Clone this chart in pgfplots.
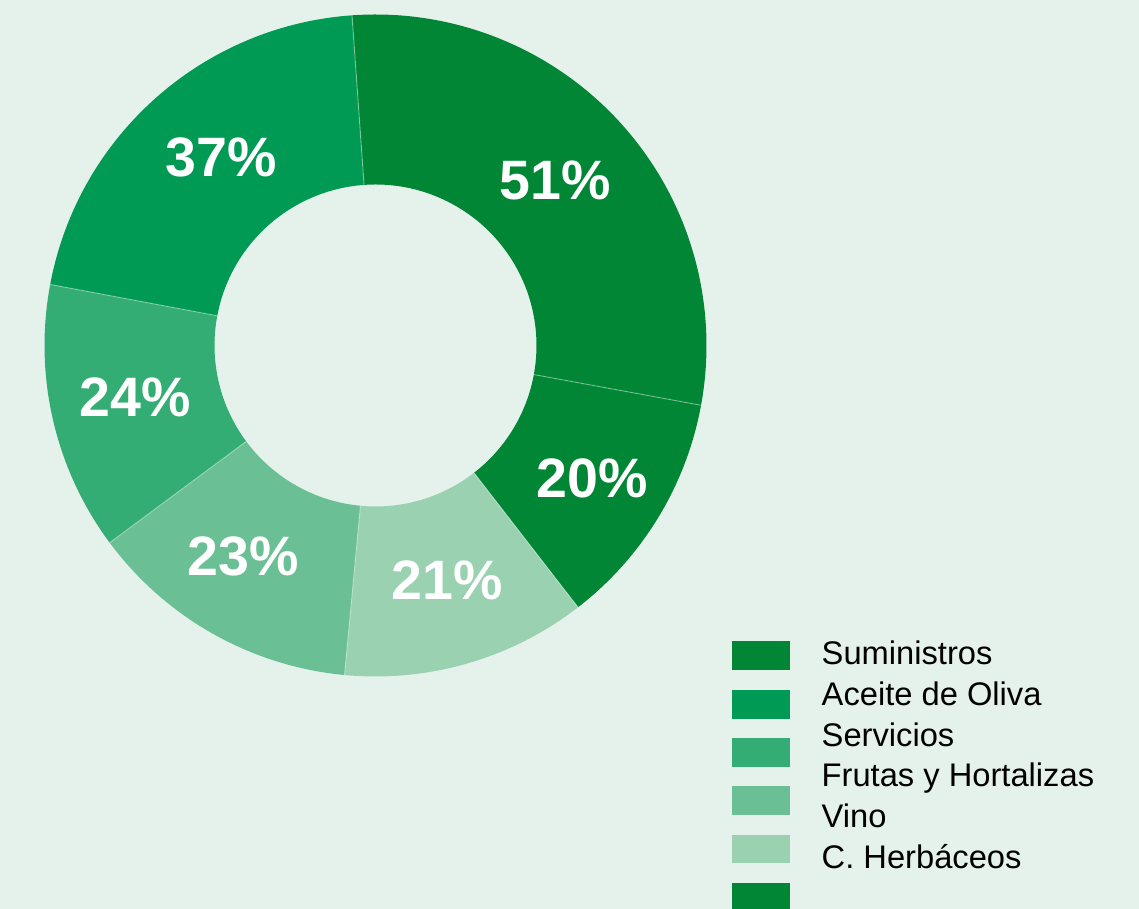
\documentclass[border=0pt]{standalone}
\usepackage{pgfplots}
\pgfplotsset{compat=1.18}
\usepackage{pgfplotstable}
\usepackage{fontspec}
\setmainfont{Liberation Sans}
\definecolor{bg}{HTML}{E5F2EB}
\definecolor{g1}{HTML}{008634}
\definecolor{g2}{HTML}{009A55}
\definecolor{g3}{HTML}{33AD74}
\definecolor{g4}{HTML}{6BBF94}
\definecolor{g5}{HTML}{99D1B1}

% donut slices, clockwise from the top: share of the ring (%), printed label, colour, label position
\pgfplotstableread{
share label color lx ly
29.02 51 g1 5.55 7.29
11.63 20 g1 5.92 4.31
11.97 21 g5 4.47 3.29
13.35 23 g4 2.43 3.53
13.11 24 g3 1.35 5.12
20.92 37 g2 2.21 7.52
}\slices

\tikzset{pct/.style={text=white, inner sep=0pt, anchor=center,
  font=\bfseries\fontsize{15.8}{18}\selectfont},
  leg/.style={text=black, inner sep=0pt, anchor=base west,
  font=\fontsize{9.3}{11}\selectfont}}

\begin{document}
\begin{tikzpicture}
\begin{axis}[
  x=1cm, y=1cm, xmin=0, xmax=11.39, ymin=0, ymax=9.09,
  hide axis, scale only axis, clip=false,
]
\fill[bg] (axis cs:0,0) rectangle (axis cs:11.39,9.09);

\def\cx{3.755}\def\cy{5.635}\def\ri{1.61}\def\ro{3.31}
\pgfplotstablegetrowsof{\slices}
\pgfmathtruncatemacro\N{\pgfplotsretval-1}
\def\total{0}
\pgfplotsforeachungrouped \i in {0,...,\N}{%
  \pgfplotstablegetelem{\i}{share}\of\slices
  \pgfmathsetmacro\total{\total+\pgfplotsretval}%
}
\def\ang{94.07}
\pgfplotsforeachungrouped \i in {0,...,\N}{%
  \pgfplotstablegetelem{\i}{share}\of\slices \let\val\pgfplotsretval
  \pgfplotstablegetelem{\i}{color}\of\slices \let\col\pgfplotsretval
  \pgfmathsetmacro\angb{\ang-\val/\total*360}%
  \pgfmathsetmacro\xia{\cx+\ri*cos(\ang)}%
  \pgfmathsetmacro\yia{\cy+\ri*sin(\ang)}%
  \pgfmathsetmacro\xoa{\cx+\ro*cos(\ang)}%
  \pgfmathsetmacro\yoa{\cy+\ro*sin(\ang)}%
  \pgfmathsetmacro\xib{\cx+\ri*cos(\angb)}%
  \pgfmathsetmacro\yib{\cy+\ri*sin(\angb)}%
  \edef\cmd{\noexpand\fill[\col] (axis cs:\xia,\yia) -- (axis cs:\xoa,\yoa)
     arc[start angle=\ang, end angle=\angb, radius=\ro]
     -- (axis cs:\xib,\yib)
     arc[start angle=\angb, end angle=\ang, radius=\ri] -- cycle;}%
  \cmd
  \let\ang\angb
}
% thin separators between slices
\def\ang{94.07}
\pgfplotsforeachungrouped \i in {0,...,\N}{%
  \pgfplotstablegetelem{\i}{share}\of\slices \let\val\pgfplotsretval
  \pgfmathsetmacro\xia{\cx+\ri*cos(\ang)}%
  \pgfmathsetmacro\yia{\cy+\ri*sin(\ang)}%
  \pgfmathsetmacro\xoa{\cx+\ro*cos(\ang)}%
  \pgfmathsetmacro\yoa{\cy+\ro*sin(\ang)}%
  \edef\cmd{\noexpand\draw[white, draw opacity=0.35, line width=0.3pt]
     (axis cs:\xia,\yia) -- (axis cs:\xoa,\yoa);}%
  \cmd
  \pgfmathsetmacro\ang{\ang-\val/\total*360}%
}
% percentage labels
\pgfplotsforeachungrouped \i in {0,...,\N}{%
  \pgfplotstablegetelem{\i}{label}\of\slices \let\lab\pgfplotsretval
  \pgfplotstablegetelem{\i}{lx}\of\slices \let\xl\pgfplotsretval
  \pgfplotstablegetelem{\i}{ly}\of\slices \let\yl\pgfplotsretval
  \edef\cmd{\noexpand\node[pct] at (axis cs:\xl,\yl) {\lab\noexpand\%};}%
  \cmd
}

% legend
\fill[g1] (axis cs:7.32,2.39) rectangle (axis cs:7.90,2.68);
\fill[g2] (axis cs:7.32,1.90) rectangle (axis cs:7.90,2.19);
\fill[g3] (axis cs:7.32,1.42) rectangle (axis cs:7.90,1.71);
\fill[g4] (axis cs:7.32,0.94) rectangle (axis cs:7.90,1.23);
\fill[g5] (axis cs:7.32,0.46) rectangle (axis cs:7.90,0.74);
\fill[g1] (axis cs:7.32,0.00) rectangle (axis cs:7.90,0.26);
\node[leg] at (axis cs:8.21,2.44) {Suministros};
\node[leg] at (axis cs:8.21,2.03) {Aceite de Oliva};
\node[leg] at (axis cs:8.21,1.62) {Servicios};
\node[leg] at (axis cs:8.21,1.22) {Frutas y Hortalizas};
\node[leg] at (axis cs:8.21,0.81) {Vino};
\node[leg] at (axis cs:8.21,0.40) {C. Herbáceos};
\end{axis}
\end{tikzpicture}
\end{document}
